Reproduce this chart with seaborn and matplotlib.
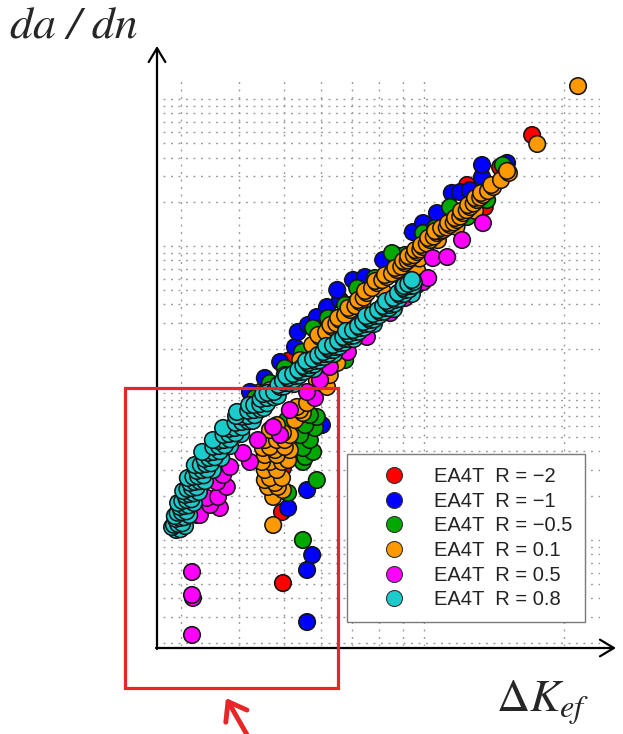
import numpy as np
import pandas as pd
import matplotlib
matplotlib.use('Agg')
import matplotlib.pyplot as plt
from matplotlib.ticker import LogLocator, NullFormatter
from matplotlib.lines import Line2D
from matplotlib.patches import Rectangle, FancyArrowPatch
import seaborn as sns

# ---------------- data (log10 dK [MPa m^0.5], log10 da/dn [m/cycle]) ----------------
labels = ['EA4T  R = \u22122', 'EA4T  R = \u22121', 'EA4T  R = \u22120.5',
          'EA4T  R = 0.1', 'EA4T  R = 0.5', 'EA4T  R = 0.8']
colors = ['#ff0000', '#0000ff', '#00a800', '#ff9900', '#ff00ff', '#1ccccc']

red_logK = [0.647, 0.711, 0.776, 0.841, 0.905, 0.970, 1.034, 1.093, 1.131, 1.164, 1.233,
            0.696, 0.694, 0.696]
red_logV = [-7.993, -7.776, -7.605, -7.401, -7.231, -7.061, -6.857, -6.585, -6.735, -6.463, -6.245,
            -8.510, -8.810, -9.293]

blue_logK = [0.625, 0.657, 0.690, 0.722, 0.728, 0.750, 0.769, 0.791, 0.813, 0.819, 0.847, 0.873,
             0.912, 0.938, 0.976, 0.998, 1.028, 1.060, 1.078, 1.099, 1.125, 1.125, 1.179,
             0.711, 0.780, 0.748, 0.707, 0.759, 0.748, 0.748]
blue_logV = [-7.993, -7.898, -7.789, -7.687, -7.585, -7.537, -7.483, -7.415, -7.299, -7.367, -7.231, -7.211,
             -7.095, -7.061, -6.905, -6.844, -6.776, -6.639, -6.633, -6.619, -6.531, -6.449, -6.435,
             -8.231, -8.218, -8.660, -8.782, -9.102, -9.204, -9.558]

green_logK = [0.636, 0.668, 0.700, 0.737, 0.761, 0.793, 0.830, 0.856, 0.894, 0.931, 0.959, 0.998,
              1.024, 1.056, 1.093, 1.136, 1.170, 1.175, 0.830,
              0.705, 0.733, 0.754, 0.769, 0.744, 0.765, 0.733, 0.754, 0.739, 0.761, 0.744, 0.739,
              0.769, 0.707, 0.739]
green_logV = [-8.034, -7.932, -7.830, -7.721, -7.558, -7.490, -7.401, -7.286, -7.218, -7.048, -7.061, -6.912,
              -6.878, -6.735, -6.803, -6.687, -6.449, -6.469, -7.776,
              -8.184, -8.150, -8.150, -8.163, -8.218, -8.238, -8.286, -8.320, -8.374, -8.401, -8.435, -8.469,
              -8.592, -8.680, -9.000]

orange_logK = [0.668, 0.700, 0.733, 0.759, 0.776, 0.802, 0.819, 0.841, 0.862, 0.877, 0.899, 0.920,
               0.942, 0.959, 0.970, 0.985, 0.998, 1.013, 1.028, 1.041, 1.056, 1.071, 1.084, 1.099,
               1.114, 1.127, 1.149, 1.183, 1.244, 1.332, 0.985, 0.769, 0.791, 0.813, 0.797,
               0.790, 0.830, 0.870, 0.910, 0.950, 0.990, 1.030, 1.070, 1.110,
               0.789, 0.811, 0.830, 0.852, 0.870, 0.888, 0.910, 0.931, 0.951, 0.965, 0.978, 0.992,
               1.006, 1.021, 1.035, 1.049, 1.064, 1.078, 1.092, 1.107, 1.121, 1.138, 1.166,
               0.772, 0.798, 0.815, 0.837, 0.858, 0.873, 0.895, 0.916, 0.938, 0.955, 0.966, 0.981,
               0.994, 1.009, 1.024, 1.037, 1.052, 1.067, 1.080, 1.095, 1.110, 1.123, 1.145, 1.179,
               0.726, 0.733, 0.748, 0.739, 0.722,
               0.683, 0.668, 0.696, 0.657, 0.683, 0.668, 0.700, 0.657, 0.683, 0.711, 0.668, 0.694,
               0.657, 0.683, 0.668, 0.694, 0.664, 0.685, 0.675, 0.675,
               0.653, 0.679, 0.700, 0.651, 0.707, 0.679, 0.657, 0.696, 0.711]
orange_logV = [-7.980, -7.878, -7.776, -7.673, -7.619, -7.551, -7.503, -7.435, -7.381, -7.320, -7.252, -7.211,
               -7.163, -7.116, -7.082, -7.041, -7.007, -6.959, -6.912, -6.891, -6.857, -6.823, -6.776, -6.735,
               -6.687, -6.653, -6.599, -6.503, -6.306, -5.912, -7.163, -7.912, -7.959, -7.796, -7.878,
               -7.660, -7.545, -7.425, -7.300, -7.205, -7.085, -6.960, -6.870, -6.760,
               -7.585, -7.527, -7.469, -7.408, -7.351, -7.286, -7.232, -7.187, -7.140, -7.099, -7.062, -7.024,
               -6.983, -6.936, -6.902, -6.874, -6.840, -6.800, -6.756, -6.711, -6.670, -6.626, -6.551,
               -7.605, -7.537, -7.489, -7.421, -7.367, -7.306, -7.238, -7.197, -7.149, -7.102, -7.068, -7.027,
               -6.993, -6.945, -6.898, -6.877, -6.843, -6.809, -6.762, -6.721, -6.673, -6.639, -6.585, -6.489,
               -8.095, -8.116, -8.068, -8.136, -8.184,
               -8.218, -8.252, -8.272, -8.320, -8.320, -8.367, -8.367, -8.422, -8.422, -8.388, -8.469, -8.469,
               -8.524, -8.524, -8.578, -8.578, -8.639, -8.639, -8.707, -8.898,
               -8.374, -8.388, -8.320, -8.469, -8.456, -8.612, -8.592, -8.660, -8.286]

magenta_logK = [0.511, 0.532, 0.554, 0.582, 0.610, 0.642, 0.675, 0.711, 0.748, 0.776, 0.797, 0.836,
                0.877, 0.927, 0.959, 0.985, 0.625, 0.690, 0.765,
                0.567, 0.575, 0.556, 0.560, 0.539, 0.517,
                0.500, 0.500, 0.502, 0.500,
                0.966, 0.998, 1.009, 1.019, 1.050, 1.082, 1.127]
magenta_logV = [-8.830, -8.714, -8.605, -8.503, -8.408, -8.320, -8.231, -8.116, -7.993, -7.912, -7.823, -7.721,
                -7.619, -7.456, -7.354, -7.265, -8.469, -8.286, -8.034,
                -8.558, -8.639, -8.707, -8.782, -8.762, -8.830,
                -9.218, -9.374, -9.394, -9.646,
                -7.299, -7.245, -7.218, -7.082, -7.075, -6.959, -6.844]

cyan_logK = [  # lower, wide part of the band
             0.466, 0.470, 0.474, 0.478, 0.483, 0.489, 0.494, 0.500, 0.506, 0.513, 0.522, 0.530,
             0.537, 0.547, 0.558, 0.569, 0.580, 0.593, 0.608, 0.621, 0.634, 0.647, 0.662, 0.677,
             0.457, 0.463, 0.470, 0.481, 0.491, 0.506, 0.522, 0.545, 0.567, 0.595, 0.623, 0.653,
             0.485, 0.494, 0.504, 0.515, 0.528, 0.545, 0.563, 0.582, 0.606, 0.631, 0.655, 0.685,
             0.461, 0.465, 0.469, 0.474, 0.479, 0.485, 0.490, 0.496, 0.503, 0.511, 0.519, 0.527,
             0.535, 0.546, 0.557, 0.568, 0.580, 0.594, 0.608, 0.621, 0.634, 0.648, 0.663,
             0.475, 0.479, 0.483, 0.488, 0.493, 0.499, 0.504, 0.510, 0.517, 0.525, 0.533, 0.541,
             0.549, 0.560, 0.571, 0.582, 0.594, 0.608, 0.622, 0.635, 0.648, 0.662, 0.677,
             0.597,
             # upper, narrow part of the band
             0.690, 0.700, 0.711, 0.722, 0.733, 0.744, 0.754, 0.765, 0.776, 0.787, 0.797, 0.808,
             0.819, 0.830, 0.841, 0.851, 0.862, 0.873, 0.884, 0.894, 0.905, 0.916, 0.927, 0.938,
             0.948, 0.959, 0.970, 0.978,
             0.698, 0.709, 0.720, 0.731, 0.742, 0.752, 0.763, 0.774, 0.785, 0.795, 0.806, 0.817,
             0.828, 0.839, 0.849, 0.860, 0.871, 0.882, 0.892, 0.903, 0.914, 0.925, 0.936, 0.946,
             0.957, 0.968, 0.977,
             0.686, 0.696, 0.707, 0.718, 0.729, 0.740, 0.750, 0.761, 0.772, 0.783, 0.793, 0.804,
             0.815, 0.826, 0.837, 0.847, 0.858, 0.869, 0.880, 0.890, 0.901, 0.912, 0.923, 0.934,
             0.944, 0.955, 0.966, 0.974,
             0.703, 0.746, 0.789, 0.832, 0.875, 0.918, 0.957,
             0.720, 0.763, 0.806, 0.849, 0.892, 0.935, 0.974]
cyan_logV = [-8.932, -8.891, -8.850, -8.810, -8.769, -8.728, -8.687, -8.646, -8.605, -8.565, -8.524, -8.483,
             -8.442, -8.401, -8.361, -8.320, -8.279, -8.238, -8.197, -8.156, -8.116, -8.075, -8.034, -7.993,
             -8.912, -8.837, -8.748, -8.667, -8.578, -8.490, -8.401, -8.320, -8.238, -8.156, -8.082, -8.007,
             -8.905, -8.830, -8.748, -8.673, -8.599, -8.524, -8.442, -8.361, -8.279, -8.190, -8.102, -8.020,
             -8.897, -8.856, -8.815, -8.775, -8.734, -8.693, -8.652, -8.611, -8.570, -8.530, -8.489, -8.448,
             -8.407, -8.366, -8.326, -8.285, -8.244, -8.203, -8.162, -8.121, -8.081, -8.040, -7.999,
             -8.927, -8.886, -8.845, -8.805, -8.764, -8.723, -8.682, -8.641, -8.600, -8.560, -8.519, -8.478,
             -8.437, -8.396, -8.356, -8.315, -8.274, -8.233, -8.192, -8.151, -8.111, -8.070, -8.029,
             -8.129,
             -7.959, -7.932, -7.912, -7.884, -7.857, -7.830, -7.810, -7.782, -7.755, -7.735, -7.707, -7.687,
             -7.660, -7.633, -7.612, -7.585, -7.558, -7.531, -7.503, -7.476, -7.449, -7.422, -7.401, -7.367,
             -7.333, -7.299, -7.272, -7.245,
             -7.956, -7.932, -7.908, -7.881, -7.854, -7.830, -7.806, -7.779, -7.755, -7.731, -7.707, -7.684,
             -7.657, -7.633, -7.609, -7.582, -7.555, -7.527, -7.500, -7.473, -7.446, -7.422, -7.394, -7.360,
             -7.326, -7.296, -7.269,
             -7.945, -7.918, -7.898, -7.870, -7.843, -7.816, -7.796, -7.768, -7.741, -7.721, -7.693, -7.673,
             -7.646, -7.619, -7.598, -7.571, -7.544, -7.517, -7.489, -7.462, -7.435, -7.408, -7.387, -7.353,
             -7.319, -7.285, -7.258, -7.231,
             -7.884, -7.782, -7.680, -7.578, -7.476, -7.374, -7.272,
             -7.939, -7.837, -7.735, -7.633, -7.531, -7.429, -7.327]

series = [(red_logK, red_logV), (blue_logK, blue_logV), (green_logK, green_logV),
          (orange_logK, orange_logV), (magenta_logK, magenta_logV), (cyan_logK, cyan_logV)]

frames = []
for i, (lab, (lk, lv)) in enumerate(zip(labels, series)):
    frames.append(pd.DataFrame({'dK': 10 ** np.array(lk), 'dadn': 10 ** np.array(lv),
                                'series': lab, 'order': i}))
df = pd.concat(frames, ignore_index=True)
# within a series, draw points in order of increasing growth rate (as recorded in a test)
df = df.sort_values(['order', 'dadn'], kind='stable').reset_index(drop=True)

# ---------------- figure ----------------
sns.set_style('white')
plt.rcParams['font.family'] = ['Liberation Sans', 'DejaVu Sans']
plt.rcParams['mathtext.fontset'] = 'stix'

W, H = 623, 734
fig = plt.figure(figsize=(W / 100, H / 100), dpi=100)


def fx(px):
    return px / W


def fy(py):
    return 1 - py / H


ax = fig.add_axes([fx(163), fy(646), (600 - 163) / W, (646 - 76) / H])
ax.set_xscale('log')
ax.set_yscale('log')

sns.scatterplot(data=df, x='dK', y='dadn', hue='series', hue_order=labels,
                palette=dict(zip(labels, colors)), s=142, edgecolor='#141414',
                linewidth=1.15, legend=False, ax=ax, clip_on=False, zorder=3)

ax.set_xlim(10 ** 0.4375, 10 ** 1.3793)
ax.set_ylim(10 ** -9.7211, 10 ** -5.8435)
for axis in (ax.xaxis, ax.yaxis):
    axis.set_major_locator(LogLocator(base=10, numticks=20))
    axis.set_minor_locator(LogLocator(base=10, subs=np.arange(2, 10), numticks=20))
    axis.set_minor_formatter(NullFormatter())
ax.tick_params(which='both', length=0, labelbottom=False, labelleft=False)
ax.grid(True, which='both', color='#9c9c9c', linestyle=(0, (1.4, 4.0)), linewidth=1.0)
ax.set_axisbelow(True)
for s in ax.spines.values():
    s.set_visible(False)
ax.set_xlabel('')
ax.set_ylabel('')
ax.patch.set_alpha(0)

# legend
handles = [Line2D([], [], ls='', marker='o', ms=11.5, mfc=c, mec='#333333', mew=0.8) for c in colors]
leg = ax.legend(handles, labels, loc='upper left', bbox_to_anchor=(fx(347), fy(454)),
                bbox_transform=fig.transFigure, frameon=True, fancybox=False, edgecolor='#7a7a7a',
                framealpha=1, fontsize=14.5, borderpad=0.65, handlelength=3.4, handletextpad=0.25,
                labelspacing=0.28, borderaxespad=0)
leg.get_frame().set_linewidth(1.0)
for t in leg.get_texts():
    t.set_color('#222222')
leg.set_zorder(5)

# axis arrows
akw = dict(arrowstyle='->,head_length=1.0,head_width=0.6', mutation_scale=10, lw=1.6,
           color='black', shrinkA=0, shrinkB=0, transform=fig.transFigure)
fig.add_artist(FancyArrowPatch((fx(157), fy(649)), (fx(157), fy(46)), **akw))
fig.add_artist(FancyArrowPatch((fx(156), fy(648)), (fx(616), fy(648)), **akw))

# axis labels
fig.text(fx(10), fy(38), 'da / dn', fontsize=33, family='STIXGeneral', style='italic',
         va='baseline', ha='left')
fig.text(fx(496), fy(712), r'$\Delta K_{ef}$', fontsize=33, va='baseline', ha='left')

# red highlight box and arrow
fig.add_artist(Rectangle((fx(125), fy(688)), (338 - 125) / W, (688 - 388) / H,
                         transform=fig.transFigure, fill=False, ec='#e8262a', lw=2.3))
fig.add_artist(FancyArrowPatch((fx(250), fy(740)), (fx(226), fy(698)),
                               arrowstyle='->,head_length=0.55,head_width=0.4', mutation_scale=22,
                               lw=3.5, color='#e8262a', shrinkA=0, shrinkB=0,
                               transform=fig.transFigure))

fig.savefig('out.png', dpi=100)
